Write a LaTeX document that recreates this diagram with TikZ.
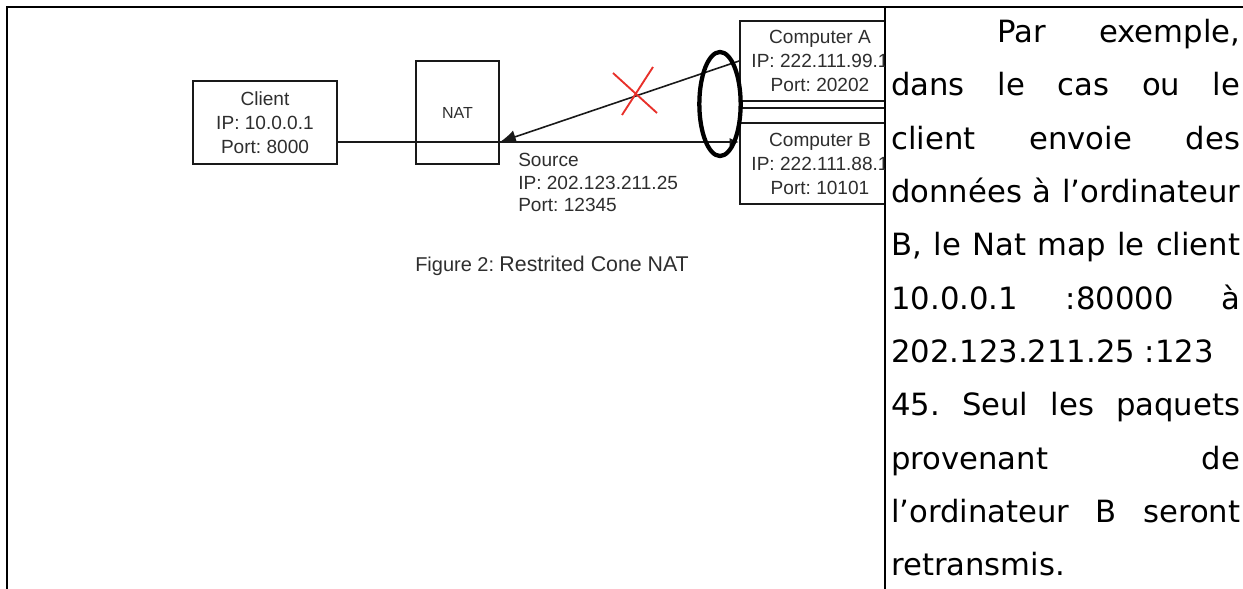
\documentclass[tikz,border=0pt]{standalone}
\usepackage{fontspec}
\setmainfont{Liberation Sans}
\newfontfamily\verd{DejaVu Sans}
\usetikzlibrary{arrows.meta}
\definecolor{txt}{HTML}{2E2E2E}
\definecolor{xred}{HTML}{E8302A}
\frenchspacing
\begin{document}
\begin{tikzpicture}[x=0.75pt,y=-0.75pt,
  frameline/.style={line width=1.6pt,black},
  box/.style={draw=black!90,line width=1.4pt,inner sep=0pt,align=center,text=txt,
    font=\fontsize{14.3}{18}\selectfont},
  lbl/.style={text=txt,inner sep=0pt,align=left,font=\fontsize{14.3}{17}\selectfont},
  conn/.style={draw=black!90,line width=1.2pt},
  para/.style={inner sep=0pt,anchor=base west,font=\verd\fontsize{23}{28}\selectfont}]
\useasboundingbox (0,0) rectangle (1243,589);
% frame
\draw[frameline] (6,7) -- (1243,7);
\draw[frameline] (7,7) -- (7,589);
\draw[frameline] (885,7) -- (885,589);
% diagram, clipped at the column divider
\begin{scope}
\clip (8,8) rectangle (884,589);
\node[box,minimum width=144*0.75pt,minimum height=83*0.75pt] (client) at (265,122.5)
  {Client\\IP: 10.0.0.1\\Port: 8000};
\node[box,minimum width=83*0.75pt,minimum height=103*0.75pt,font=\fontsize{12}{14}\selectfont] (nat) at (457.5,112.5) {NAT};
\node[box,minimum width=160*0.75pt,minimum height=80*0.75pt] (compA) at (820,61)
  {Computer A\\IP: 222.111.99.1\\Port: 20202};
\draw[draw=black!90,line width=1.4pt] (compA.south west) ++(0,6) coordinate (abot) -- ++(160,0);
\node[box,minimum width=160*0.75pt,minimum height=81*0.75pt] (compB) at (820,163.5)
  {Computer B\\IP: 222.111.88.1\\Port: 10101};
\coordinate (ly) at (0,142);
% connectors
\draw[conn,-{Latex[length=7pt,width=6pt]}] (client.east |- ly) -- (compB.west |- ly);
\draw[conn,-{Latex[length=12pt,width=10pt]}] (compA.west) -- (nat.east |- ly);
% red cross
\draw[xred,line width=1.4pt] (613,73) -- (657,113);
\draw[xred,line width=1.4pt] (653,67) -- (622,115);
% ellipse
\draw[line width=3.2pt] (720,104) ellipse [x radius=15.5pt, y radius=39pt];
% source label
\node[lbl,anchor=north west] (src) at (518,153) {Source\\IP: 202.123.211.25\\Port: 12345};
% caption
\node[lbl,anchor=base west] (cap) at (415,271) {{\fontsize{15}{17}\selectfont Figure 2:} {\fontsize{16}{17}\selectfont Restrited Cone NAT}};
\end{scope}
% right column text
\node[para] (l1) at (997,42) {\makebox[182.25pt][s]{Par exemple,}};
\node[para] (l2) at (891,95) {\makebox[261.75pt][s]{dans le cas ou le}};
\node[para] (l3) at (891,149) {\makebox[261.75pt][s]{client envoie des}};
\node[para] (l4) at (891,202) {\makebox[261.75pt][s]{données à l’ordinateur}};
\node[para] (l5) at (891,255) {\makebox[261.75pt][s]{B, le Nat map le client}};
\node[para] (l6) at (891,309) {\makebox[261.75pt][s]{10.0.0.1 :80000 à}};
\node[para] (l7) at (891,362) {202.123.211.25 :123};
\node[para] (l8) at (891,415) {\makebox[261.75pt][s]{45. Seul les paquets}};
\node[para] (l9) at (891,469) {\makebox[261.75pt][s]{provenant de}};
\node[para] (l10) at (891,522) {\makebox[261.75pt][s]{l’ordinateur B seront}};
\node[para] (l11) at (891,575) {retransmis.};
\end{tikzpicture}
\end{document}
